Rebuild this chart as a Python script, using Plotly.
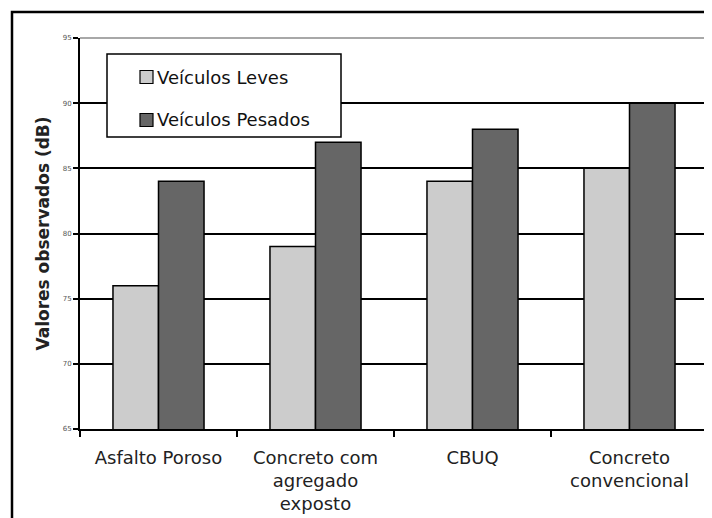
import plotly.graph_objects as go

categories = ["Asfalto Poroso", "Concreto com<br>agregado<br>exposto", "CBUQ", "Concreto<br>convencional"]
series_names = ["Veículos Leves", "Veículos Pesados"]
leves = [76, 79, 84, 85]
pesados = [84, 87, 88, 90]
series_values = [leves, pesados]
series_colors = ["#cccccc", "#666666"]
y_ticks = [65, 70, 75, 80, 85, 90, 95]
y_title = "Valores observados (dB)"

# page body has an 8px margin; size the figure so it fills the 712x518 window
OFF = 8
W, H = 712 - OFF, 518 - OFF
L, R, T, B = 80 - OFF, 4, 38 - OFF, 89
pw, ph = W - L - R, H - T - B

def px_x(x):  # x in window pixels
    return (x - OFF - L) / pw

def px_y(y):  # y in window pixels
    return (H - B - (y - OFF)) / ph

fig = go.Figure()
for name, vals, col in zip(series_names, series_values, series_colors):
    fig.add_trace(go.Bar(
        x=categories, y=vals, name=name,
        marker=dict(color=col, line=dict(color="#000000", width=1.5)),
        showlegend=False,
    ))

shapes = []
# outer frame
shapes.append(dict(type="rect", xref="paper", yref="paper",
                   x0=px_x(12), x1=px_x(760), y0=px_y(580), y1=px_y(12),
                   line=dict(color="#000000", width=2.5), fillcolor="rgba(0,0,0,0)", layer="below"))
# gray plot border top & right
shapes.append(dict(type="line", xref="paper", yref="paper", x0=0, x1=1, y0=1, y1=1,
                   line=dict(color="#a8a8a8", width=2)))
shapes.append(dict(type="line", xref="paper", yref="paper", x0=1, x1=1, y0=0, y1=1,
                   line=dict(color="#a8a8a8", width=2)))
# legend box
shapes.append(dict(type="rect", xref="paper", yref="paper",
                   x0=px_x(107), x1=px_x(341), y0=px_y(137), y1=px_y(54),
                   line=dict(color="#000000", width=1.5), fillcolor="#ffffff", layer="above"))
annotations = []
rows_y = [77, 120]
for name, col, ry in zip(series_names, series_colors, rows_y):
    shapes.append(dict(type="rect", xref="paper", yref="paper",
                       x0=px_x(140), x1=px_x(153), y0=px_y(ry + 6.5), y1=px_y(ry - 6.5),
                       line=dict(color="#000000", width=1.2), fillcolor=col, layer="above"))
    annotations.append(dict(xref="paper", yref="paper", x=px_x(155), y=px_y(ry),
                            xanchor="left", yanchor="middle", showarrow=False, text=name,
                            font=dict(family="DejaVu Sans", size=18, color="#111111")))

fig.update_layout(
    width=W, height=H,
    margin=dict(l=L, r=R, t=T, b=B, pad=0, autoexpand=False),
    paper_bgcolor="#ffffff", plot_bgcolor="#ffffff",
    barmode="group", bargap=0.42, bargroupgap=0,
    shapes=shapes, annotations=annotations,
    font=dict(family="DejaVu Sans", color="#111111"),
)
fig.update_yaxes(
    range=[65, 95], tickvals=y_ticks, ticktext=[str(t) for t in y_ticks],
    showgrid=True, gridcolor="#000000", gridwidth=1.5,
    showline=True, linecolor="#000000", linewidth=2,
    ticks="outside", ticklen=5, tickcolor="#000000", tickwidth=1.5,
    tickfont=dict(size=7, color="#555555"),
    title=dict(text="<b>" + y_title + "</b>", font=dict(family="DejaVu Sans", size=17, color="#222222"), standoff=9),
    zeroline=False, automargin=False,
)
fig.update_xaxes(
    showline=True, linecolor="#000000", linewidth=2,
    ticks="outside", tickson="boundaries", ticklen=6, tickcolor="#000000", tickwidth=1.5,
    tickfont=dict(family="DejaVu Sans", size=18, color="#222222"),
    ticklabelstandoff=11,
    showgrid=False, automargin=False,
)
fig.write_html("out.html")
